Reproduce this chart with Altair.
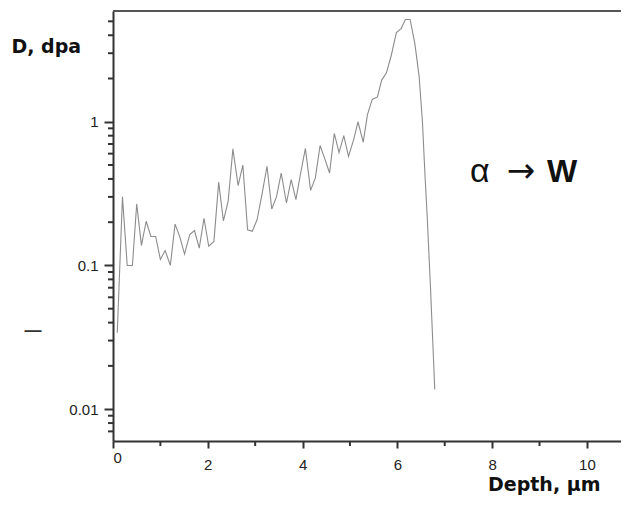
import altair as alt
import pandas as pd

# Depth (µm) and damage dose (dpa)
depth = [0.09, 0.20, 0.30, 0.41, 0.50, 0.60, 0.70, 0.80, 0.90, 1.00,
         1.10, 1.21, 1.31, 1.41, 1.51, 1.62, 1.72, 1.82, 1.92, 2.02,
         2.13, 2.23, 2.33, 2.43, 2.53, 2.64, 2.74, 2.84, 2.94, 3.04,
         3.15, 3.25, 3.35, 3.45, 3.55, 3.66, 3.76, 3.86, 3.96, 4.06,
         4.17, 4.27, 4.37, 4.47, 4.57, 4.67, 4.77, 4.87, 4.97, 5.08,
         5.17, 5.28, 5.37, 5.47, 5.58, 5.67, 5.77, 5.87, 5.98, 6.08,
         6.17, 6.27, 6.37, 6.46, 6.53, 6.58, 6.63, 6.70, 6.79]
dose = [0.034, 0.30, 0.10, 0.10, 0.268, 0.138, 0.203, 0.159, 0.159, 0.110,
        0.127, 0.100, 0.194, 0.158, 0.120, 0.164, 0.175, 0.132, 0.213, 0.136,
        0.147, 0.380, 0.204, 0.280, 0.648, 0.360, 0.500, 0.177, 0.173, 0.208,
        0.320, 0.490, 0.247, 0.300, 0.440, 0.272, 0.396, 0.287, 0.440, 0.652,
        0.333, 0.407, 0.684, 0.552, 0.440, 0.830, 0.610, 0.800, 0.575, 0.753,
        1.00, 0.721, 1.12, 1.43, 1.49, 1.95, 2.19, 2.88, 4.17, 4.45,
        5.15, 5.15, 3.5, 2.07, 1.0, 0.45, 0.22, 0.07, 0.0137]

x_major = [0, 2, 4, 6, 8, 10]
x_minor = [1, 3, 5, 7, 9]
y_major = [0.01, 0.1, 1]
y_minor = [0.007, 0.008, 0.009,
           0.02, 0.03, 0.04, 0.05, 0.06, 0.07, 0.08, 0.09,
           0.2, 0.3, 0.4, 0.5, 0.6, 0.7, 0.8, 0.9,
           2, 3, 4, 5]

W, H = 508, 430
AX = "#333333"
FONT = "Liberation Sans"

xscale = alt.Scale(domain=[0, 10.72], nice=False, zero=False)
yscale = alt.Scale(type="log", domain=[0.006, 5.9], nice=False)

df = pd.DataFrame({"depth": depth, "dose": dose})

line = alt.Chart(df).mark_line(color="#8c8c8c", strokeWidth=1.1, clip=True).encode(
    x=alt.X("depth:Q", scale=xscale,
            axis=alt.Axis(
                values=x_major, format="d",
                ticks=True, tickSize=7,
                labelPadding={"condition": {"test": "datum.value == 0", "value": 2}, "value": 9},
                labelBaseline="top",
                labelFont=FONT, labelFontSize=15, labelColor="#222222",
                domainColor=AX, domainWidth=2, tickColor=AX, tickWidth=2,
                grid=False,
                title="Depth, µm", titleFont="DejaVu Sans", titleFontWeight="bold",
                titleFontSize=19, titleColor="#111111",
                titleAlign="right", titleBaseline="alphabetic",
                titleX=487, titleY=49, titleAnchor="end")),
    y=alt.Y("dose:Q", scale=yscale,
            axis=alt.Axis(
                values=y_major, format="~g",
                ticks=True, tickSize=9,
                labelPadding=6,
                labelFont=FONT, labelFontSize=15, labelColor="#222222",
                domainColor=AX, domainWidth=2, tickColor=AX, tickWidth=2,
                grid=False,
                title="D, dpa", titleAngle=0, titleFont="DejaVu Sans", titleFontWeight="bold",
                titleFontSize=19, titleColor="#111111",
                titleAlign="left", titleBaseline="alphabetic",
                titleX=-102, titleY=41))
)

# minor ticks of the axes
ymin_df = pd.DataFrame({"dose": y_minor})
y_minor_ticks = alt.Chart(ymin_df).mark_tick(
    color=AX, thickness=2, size=5, orient="horizontal", opacity=1).encode(
    y=alt.Y("dose:Q", scale=yscale), x=alt.value(-2.5))

xmin_df = pd.DataFrame({"depth": x_minor})
x_minor_ticks = alt.Chart(xmin_df).mark_tick(
    color=AX, thickness=2, size=5, orient="vertical", opacity=1).encode(
    x=alt.X("depth:Q", scale=xscale), y=alt.value(H + 2.5))

one = pd.DataFrame({"k": [0]})

top_border = alt.Chart(one).mark_rule(color="#555555", strokeWidth=2).encode(
    x=alt.value(0), x2=alt.value(W), y=alt.value(0))

dash = alt.Chart(one).mark_text(
    text="—", font=FONT, fontSize=17, fontWeight="bold", align="center",
    baseline="middle", color="#333333").encode(
    x=alt.value(-80), y=alt.value(320))

alpha_txt = alt.Chart(one).mark_text(
    text="α", font=FONT, fontSize=34, align="left",
    baseline="alphabetic", color="#111111").encode(
    x=alt.value(357), y=alt.value(171))

arrow_txt = alt.Chart(one).mark_text(
    text="→", font="DejaVu Sans", fontSize=34, align="center",
    baseline="alphabetic", color="#111111").encode(
    x=alt.value(408), y=alt.value(171))

w_txt = alt.Chart(one).mark_text(
    text="W", font=FONT, fontSize=32, fontWeight="bold", align="left",
    baseline="alphabetic", color="#111111").encode(
    x=alt.value(434), y=alt.value(171))

chart = alt.layer(line, y_minor_ticks, x_minor_ticks, top_border, dash,
                  alpha_txt, arrow_txt, w_txt).properties(
    width=W, height=H,
    padding={"left": 105, "top": 3, "right": 0, "bottom": 54},
    autosize="none",
).configure(background="white").configure_view(stroke="transparent", strokeWidth=0)

chart.save("out.html", embed_options={"renderer": "svg", "actions": False})
